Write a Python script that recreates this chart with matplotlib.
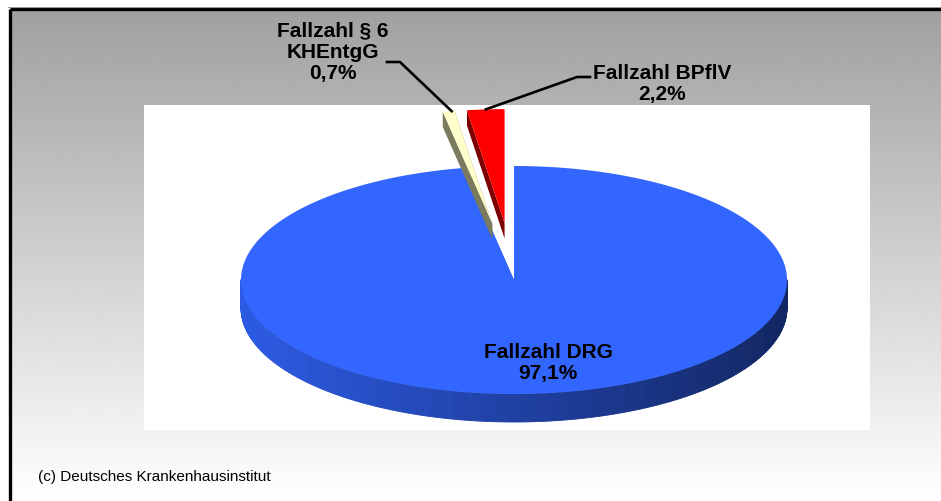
import numpy as np
import matplotlib
matplotlib.use("Agg")
import matplotlib.pyplot as plt
from matplotlib.patches import Polygon, Rectangle
from matplotlib.collections import PolyCollection
from matplotlib.lines import Line2D

plt.rcParams['font.family'] = ['Liberation Sans', 'DejaVu Sans']

# ---- data ----
categories = ['Fallzahl DRG', 'Fallzahl § 6\nKHEntgG', 'Fallzahl BPflV']
shares = [97.1, 0.7, 2.2]
share_labels = ['97,1%', '0,7%', '2,2%']
explode = [0.0, 0.5, 0.5]
top_colors = ['#3366FF', '#FFFFCC', '#FF0000']
cut_colors = ['#2a52cc', '#7a7a5e', '#7f0000']
source_text = '(c) Deutsches Krankenhausinstitut'

W, H = 941, 502
fig = plt.figure(figsize=(W / 100, H / 100), dpi=100)

# ---- background axes in pixel coordinates ----
ax_bg = fig.add_axes([0, 0, 1, 1])
ax_bg.set_xlim(0, W)
ax_bg.set_ylim(H, 0)
ax_bg.axis('off')
ax_bg.set_zorder(0)

grad = np.linspace(160, 255, 256).reshape(-1, 1)
ax_bg.imshow(grad, cmap='gray', vmin=0, vmax=255, aspect='auto',
             extent=[10, W, H, 10], interpolation='bilinear', zorder=0)
ax_bg.add_line(Line2D([10, W], [10, 10], color='black', lw=2.4, zorder=3, solid_capstyle='butt'))
ax_bg.add_line(Line2D([10, 10], [10, H], color='black', lw=2.4, zorder=3, solid_capstyle='butt'))
ax_bg.add_line(Line2D([8, W], [8.2, 8.2], color='#9a9a9a', lw=0.8, zorder=3))
ax_bg.add_patch(Rectangle((144, 106), 726, 325, facecolor='white', edgecolor='none', zorder=1))
ax_bg.text(38, 477, source_text, fontsize=11, ha='left', va='center', color='black', zorder=4)

# ---- pie axes: unit circle -> ellipse ----
cx, cy, a_px, b_px = 514, 281, 273, 114
xl, yl = 1.25, 1.7
left = cx - xl * a_px
top = cy - yl * b_px
ax = fig.add_axes([left / W, (H - top - 2 * yl * b_px) / H, 2 * xl * a_px / W, 2 * yl * b_px / H])
ax.set_xlim(-xl, xl)
ax.set_ylim(-yl, yl)
ax.axis('off')
ax.patch.set_alpha(0)
ax.set_zorder(2)

depth = 28 / b_px
cut_depth = 0.55 * depth
side_left = np.array([44, 90, 228]) / 255
side_right = np.array([18, 38, 98]) / 255

total = sum(shares)
angles = []
end = 90.0
for v in shares:
    start = end - v / total * 360.0
    angles.append((start, end))
    end = start


def draw_wedge(i):
    t1, t2 = angles[i]
    mid = np.radians((t1 + t2) / 2)
    ox, oy = explode[i] * np.cos(mid), explode[i] * np.sin(mid)
    # outer rim (front half only)
    th = np.radians(np.linspace(t1, t2, 600))
    quads, cols = [], []
    for a0, a1 in zip(th[:-1], th[1:]):
        m = (a0 + a1) / 2
        if np.sin(m) >= 0:
            continue
        p0 = (ox + np.cos(a0), oy + np.sin(a0))
        p1 = (ox + np.cos(a1), oy + np.sin(a1))
        quads.append([p0, p1, (p1[0], p1[1] - depth), (p0[0], p0[1] - depth)])
        t = (np.cos(m) + 1) / 2
        cols.append(tuple(side_left * (1 - t) + side_right * t))
    if quads:
        ax.add_collection(PolyCollection(quads, facecolors=cols, edgecolors=cols, linewidths=0.6, zorder=1 + i * 3))
    # cut faces
    for phi in (t1, t2):
        r = np.radians(phi)
        pr = (ox + np.cos(r), oy + np.sin(r))
        face = [(ox, oy), pr, (pr[0], pr[1] - cut_depth), (ox, oy - cut_depth)]
        ax.add_patch(Polygon(face, closed=True, facecolor=cut_colors[i], edgecolor='none', zorder=1 + i * 3))
    # top face
    pts = [(ox, oy)] + [(ox + np.cos(a), oy + np.sin(a)) for a in th]
    ax.add_patch(Polygon(pts, closed=True, facecolor=top_colors[i], edgecolor='none', zorder=2 + i * 3))
    return (ox + np.cos(mid), oy + np.sin(mid))


rim_points = [draw_wedge(i) for i in range(len(shares))]


def to_px(pt):
    disp = ax.transData.transform(pt)
    return ax_bg.transData.inverted().transform(disp)


# ---- labels ----
lab_kw = dict(fontsize=15, fontweight='bold', ha='center', va='center', color='black',
              linespacing=1.15, zorder=5)
ax_bg.text(333, 52, categories[1] + '\n' + share_labels[1], **lab_kw)
ax_bg.text(662, 84, categories[2] + '\n' + share_labels[2], **lab_kw)

p_c = to_px(rim_points[1])
p_r = to_px(rim_points[2])

# overlay axes for leader lines and the label on the pie
ax_top = fig.add_axes([0, 0, 1, 1])
ax_top.set_xlim(0, W)
ax_top.set_ylim(H, 0)
ax_top.axis('off')
ax_top.patch.set_alpha(0)
ax_top.set_zorder(3)
ax_top.add_line(Line2D([387, 400, p_c[0] + 3], [63, 63, p_c[1]], color='black', lw=1.9))
ax_top.add_line(Line2D([590, 577, p_r[0]], [78, 78, p_r[1]], color='black', lw=1.9))
ax_top.text(548, 363, categories[0] + '\n' + share_labels[0], **lab_kw)

fig.savefig('out.png', dpi=100)
